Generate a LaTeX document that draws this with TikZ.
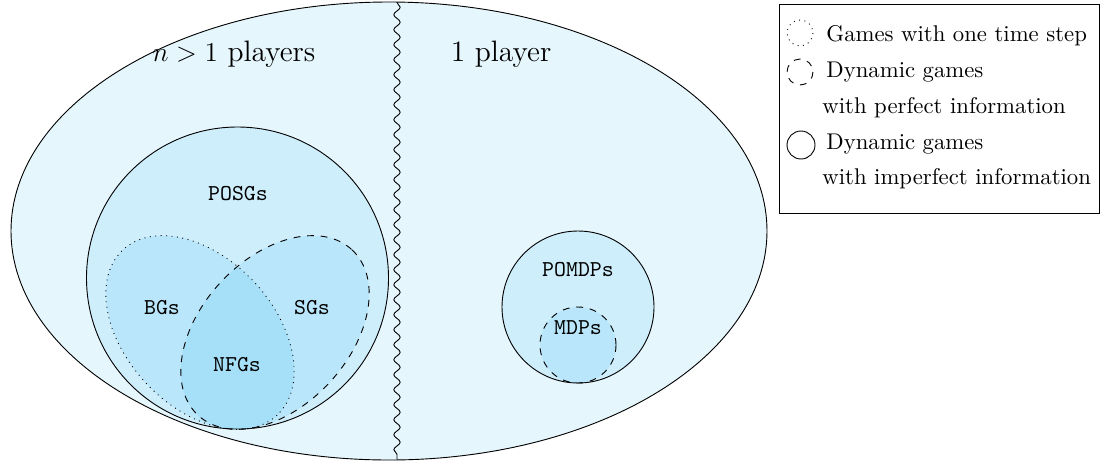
\documentclass[tikz,border=0pt]{standalone}
\usetikzlibrary{decorations.pathmorphing}
\definecolor{setblue}{RGB}{0,165,235}
\begin{document}
\begin{tikzpicture}[x=0.44pt,y=-0.44pt,
  setfill/.style={fill=setblue, fill opacity=0.1},
  setlabel/.style={font=\ttfamily, inner sep=0pt},
  title/.style={font=\fontsize{13}{15}\selectfont, inner sep=0pt},
  legtext/.style={anchor=base west, inner sep=0pt}]
\useasboundingbox (0,0) rectangle (1102,464);

% universe of games
\fill[setfill] (389,231) ellipse [x radius=378, y radius=229];
\draw (389,231) ellipse [x radius=378, y radius=229];

% divider between multi-player and single-player settings
\coordinate (wtop) at (397,2.5);
\coordinate (wbot) at (397,459.5);
\draw[decorate, decoration={snake, amplitude=1.4pt, segment length=6.6pt}] (wtop) -- (wbot);

% POSGs
\fill[setfill] (237.5,278) circle [radius=151];
\draw (237.5,278) circle [radius=151];

% BGs and SGs
\begin{scope}[rotate around={-47:(200,332.5)}]
  \fill[setfill] (200,332.5) ellipse [x radius=113, y radius=74];
\end{scope}
\begin{scope}[rotate around={47:(275,332.5)}]
  \fill[setfill] (275,332.5) ellipse [x radius=113, y radius=74];
\end{scope}
\begin{scope}[rotate around={-47:(200,332.5)}]
  \draw[dotted] (200,332.5) ellipse [x radius=113, y radius=74];
\end{scope}
\begin{scope}[rotate around={47:(275,332.5)}]
  \draw[dashed] (275,332.5) ellipse [x radius=113, y radius=74];
\end{scope}

% POMDPs and MDPs
\fill[setfill] (578,307) circle [radius=76];
\draw (578,307) circle [radius=76];
\fill[setfill] (578,345) circle [radius=38];
\draw[dashed] (578,345) circle [radius=38];

% set labels
\node[title] (multi) at (234,54) {$n>1$ players};
\node[title] (single) at (501,54) {1 player};
\node[setlabel] (posg) at (238,194) {POSGs};
\node[setlabel] (bg) at (162,308) {BGs};
\node[setlabel] (sg) at (312,308) {SGs};
\node[setlabel] (nfg) at (237,365) {NFGs};
\node[setlabel] (pomdp) at (578,270) {POMDPs};
\node[setlabel] (mdp) at (578,328) {MDPs};

% legend
\draw (779,4) rectangle (1099,213);
\draw[dotted] (800,33) circle [radius=13];
\draw[dashed] (800,72) circle [radius=13];
\draw (801,145) circle [radius=14];
\node[legtext] (l1) at (826,41) {Games with one time step};
\node[legtext] (l2) at (826,77) {Dynamic games};
\node[legtext] (l3) at (822,113) {with perfect information};
\node[legtext] (l4) at (826,149) {Dynamic games};
\node[legtext] (l5) at (822,184) {with imperfect information};
\end{tikzpicture}
\end{document}
